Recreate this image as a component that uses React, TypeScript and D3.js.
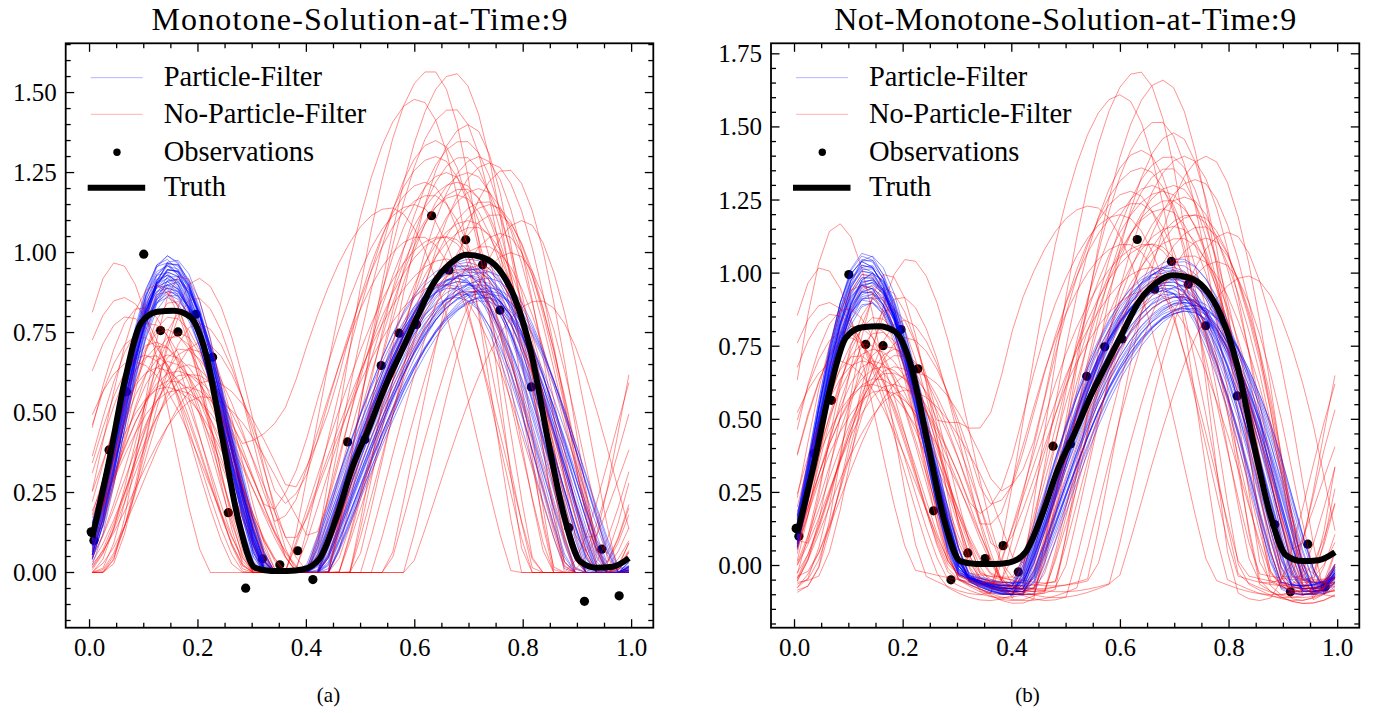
import React from "react";
import * as d3 from "d3";

const W = 1374;
const H = 713;
const FONT = "Liberation Serif, DejaVu Serif, Times New Roman, serif";

// truth (same in both panels)
const truthX = d3.range(34).map((i) => 0.005 + i * 0.03);
const truthY = [
  0.11, 0.34, 0.6, 0.78, 0.815, 0.818, 0.8, 0.68, 0.42, 0.16, 0.015, 0.005,
  0.005, 0.01, 0.045, 0.17, 0.33, 0.45, 0.58, 0.69, 0.8, 0.905, 0.965, 0.993,
  0.985, 0.948, 0.855, 0.685, 0.42, 0.18, 0.035, 0.015, 0.018, 0.045,
];

// observations (same in both panels)
const obsX = [
  0.003, 0.008, 0.036, 0.068, 0.1, 0.131, 0.163, 0.196, 0.227, 0.256, 0.288,
  0.319, 0.351, 0.384, 0.412, 0.476, 0.508, 0.538, 0.571, 0.603, 0.631, 0.663,
  0.694, 0.725, 0.757, 0.815, 0.884, 0.913, 0.945, 0.977,
];
const obsY = [
  0.127, 0.1, 0.383, 0.565, 0.995, 0.756, 0.752, 0.807, 0.673, 0.187, -0.049,
  0.043, 0.024, 0.068, -0.022, 0.408, 0.416, 0.647, 0.748, 0.775, 1.115, 0.945,
  1.04, 0.962, 0.82, 0.58, 0.14, -0.09, 0.073, -0.073,
];

// ensemble members:
// [peak1 centre, peak1 height, peak1 half width, peak2 centre, peak2 height, peak2 half width, dip depth]
const leftBlue = [
  [0.142, 0.93, 0.17, 0.7, 0.9, 0.285], [0.148, 0.97, 0.166, 0.69, 0.95, 0.28],
  [0.138, 0.89, 0.175, 0.72, 0.88, 0.292], [0.152, 0.95, 0.168, 0.68, 0.92, 0.276],
  [0.145, 0.99, 0.162, 0.706, 0.99, 0.286], [0.14, 0.91, 0.172, 0.732, 0.86, 0.298],
  [0.15, 0.88, 0.178, 0.694, 0.93, 0.281], [0.136, 0.94, 0.166, 0.716, 0.89, 0.29],
  [0.156, 0.92, 0.17, 0.672, 0.96, 0.272], [0.143, 0.96, 0.164, 0.742, 0.87, 0.3],
  [0.147, 0.9, 0.174, 0.686, 0.91, 0.279], [0.139, 0.98, 0.16, 0.71, 0.94, 0.288],
  [0.153, 0.87, 0.176, 0.726, 0.85, 0.294], [0.144, 0.93, 0.169, 0.698, 0.97, 0.283],
  [0.149, 0.95, 0.167, 0.664, 0.9, 0.27], [0.137, 0.9, 0.173, 0.736, 0.92, 0.296],
  [0.151, 0.97, 0.163, 0.702, 0.88, 0.284], [0.141, 0.86, 0.179, 0.718, 0.95, 0.291],
  [0.146, 0.94, 0.168, 0.678, 0.86, 0.277], [0.154, 0.92, 0.171, 0.708, 1.0, 0.287],
  [0.14, 0.96, 0.165, 0.724, 0.9, 0.293], [0.148, 0.89, 0.175, 0.69, 0.93, 0.28],
  [0.143, 0.99, 0.161, 0.714, 0.87, 0.289], [0.157, 0.91, 0.172, 0.668, 0.94, 0.271],
  [0.138, 0.93, 0.17, 0.74, 0.89, 0.299], [0.15, 0.95, 0.166, 0.696, 0.96, 0.282],
  [0.145, 0.88, 0.177, 0.728, 0.86, 0.295], [0.152, 0.97, 0.164, 0.684, 0.91, 0.278],
  [0.142, 0.9, 0.173, 0.704, 0.98, 0.285], [0.147, 0.94, 0.168, 0.72, 0.88, 0.292],
  [0.139, 0.92, 0.171, 0.676, 0.92, 0.275], [0.155, 0.98, 0.162, 0.712, 0.9, 0.288],
  [0.144, 0.87, 0.178, 0.734, 0.94, 0.297], [0.149, 0.96, 0.165, 0.692, 0.87, 0.281],
  [0.141, 0.91, 0.172, 0.708, 0.95, 0.286], [0.153, 0.93, 0.169, 0.67, 0.89, 0.273],
  [0.137, 0.97, 0.163, 0.722, 0.91, 0.294], [0.146, 0.89, 0.176, 0.7, 0.93, 0.284],
  [0.151, 0.95, 0.167, 0.738, 0.88, 0.298], [0.143, 0.92, 0.17, 0.688, 0.96, 0.279],
];

const leftRed = [
  [0.15, 0.8, 0.18, 0.69, 1.2, 0.27], [0.12, 0.72, 0.2, 0.65, 1.05, 0.29],
  [0.18, 0.65, 0.19, 0.72, 1.3, 0.24], [0.06, 0.86, 0.2, 0.63, 1.57, 0.22],
  [0.2, 0.92, 0.17, 0.674, 1.56, 0.23], [0.14, 0.58, 0.21, 0.7, 0.95, 0.29],
  [0.165, 0.75, 0.16, 0.605, 1.48, 0.24], [0.1, 0.68, 0.18, 0.74, 1.15, 0.26],
  [0.21, 0.55, 0.23, 0.66, 1.25, 0.25], [0.13, 0.9, 0.15, 0.77, 1.26, 0.22],
  [0.17, 0.7, 0.19, 0.555, 1.14, 0.28], [0.05, 0.97, 0.16, 0.71, 1.08, 0.28],
  [0.19, 0.62, 0.2, 0.64, 1.35, 0.23], [0.155, 0.85, 0.17, 0.83, 0.85, 0.24],
  [0.11, 0.78, 0.19, 0.68, 1.18, 0.27], [0.22, 0.6, 0.22, 0.62, 1.22, 0.25],
  [0.145, 0.66, 0.18, 0.73, 1.02, 0.28], [0.175, 0.82, 0.16, 0.7, 1.4, 0.22],
  [0.09, 0.74, 0.19, 0.66, 0.98, 0.3], [0.16, 0.57, 0.22, 0.75, 1.12, 0.25],
  [0.135, 0.88, 0.15, 0.69, 1.3, 0.24], [0.185, 0.7, 0.19, 0.61, 1.05, 0.27],
  [0.125, 0.64, 0.2, 0.72, 1.2, 0.26], [0.2, 0.78, 0.18, 0.65, 0.9, 0.29],
  [0.07, 0.8, 0.2, 0.7, 1.1, 0.27], [0.15, 0.6, 0.2, 0.78, 1.0, 0.23],
  [0.17, 0.93, 0.14, 0.67, 1.45, 0.23], [0.115, 0.68, 0.17, 0.74, 1.28, 0.25],
  [0.205, 0.72, 0.19, 0.63, 1.18, 0.28], [0.14, 0.76, 0.19, 0.71, 0.88, 0.29],
  [0.16, 0.63, 0.21, 0.69, 1.35, 0.25], [0.095, 0.83, 0.18, 0.76, 1.06, 0.24],
  [0.18, 0.58, 0.2, 0.6, 1.15, 0.27], [0.13, 0.71, 0.16, 0.68, 1.22, 0.28],
  [0.195, 0.86, 0.17, 0.72, 0.96, 0.26], [0.08, 0.66, 0.21, 0.64, 1.3, 0.26],
  [0.155, 0.74, 0.18, 0.8, 1.1, 0.22], [0.175, 0.62, 0.2, 0.66, 1.05, 0.28],
  [0.12, 0.9, 0.17, 0.7, 1.25, 0.26], [0.145, 0.68, 0.2, 0.73, 1.16, 0.27],
];

const rightBlue = [
  [0.134, 0.98, 0.166, 0.7, 0.95, 0.285, 0.09], [0.13, 1.03, 0.162, 0.69, 0.99, 0.28, 0.08],
  [0.138, 0.94, 0.17, 0.715, 0.9, 0.292, 0.1], [0.128, 1.06, 0.16, 0.682, 1.02, 0.276, 0.07],
  [0.136, 0.92, 0.172, 0.706, 0.93, 0.288, 0.09], [0.132, 1.0, 0.164, 0.726, 0.88, 0.296, 0.08],
  [0.14, 0.96, 0.168, 0.694, 0.97, 0.282, 0.1], [0.126, 1.04, 0.163, 0.71, 0.92, 0.29, 0.06],
  [0.135, 0.9, 0.174, 0.674, 1.0, 0.272, 0.09], [0.131, 1.01, 0.165, 0.734, 0.89, 0.298, 0.08],
  [0.137, 0.97, 0.169, 0.688, 0.96, 0.279, 0.1], [0.129, 1.07, 0.16, 0.712, 1.04, 0.287, 0.07],
  [0.141, 0.93, 0.171, 0.722, 0.87, 0.294, 0.09], [0.133, 0.99, 0.166, 0.698, 0.98, 0.283, 0.08],
  [0.127, 1.02, 0.162, 0.678, 0.94, 0.274, 0.1], [0.139, 0.95, 0.17, 0.73, 0.91, 0.296, 0.07],
  [0.134, 1.05, 0.163, 0.702, 1.01, 0.284, 0.09], [0.13, 0.91, 0.173, 0.716, 0.88, 0.291, 0.08],
  [0.136, 0.98, 0.167, 0.684, 0.95, 0.277, 0.1], [0.142, 1.0, 0.168, 0.708, 1.05, 0.287, 0.06],
  [0.128, 0.96, 0.165, 0.72, 0.9, 0.293, 0.09], [0.135, 1.03, 0.164, 0.692, 0.97, 0.28, 0.08],
  [0.131, 0.94, 0.171, 0.712, 0.92, 0.289, 0.1], [0.138, 1.06, 0.161, 0.676, 0.99, 0.273, 0.07],
  [0.133, 0.92, 0.169, 0.736, 0.89, 0.299, 0.09], [0.129, 1.01, 0.166, 0.696, 1.02, 0.282, 0.08],
  [0.14, 0.97, 0.172, 0.724, 0.87, 0.295, 0.1], [0.126, 1.04, 0.162, 0.686, 0.96, 0.278, 0.07],
  [0.137, 0.95, 0.168, 0.704, 1.03, 0.285, 0.09], [0.132, 0.99, 0.167, 0.718, 0.91, 0.292, 0.08],
  [0.136, 0.93, 0.17, 0.68, 0.94, 0.275, 0.1], [0.13, 1.05, 0.163, 0.71, 0.98, 0.288, 0.06],
  [0.139, 0.9, 0.173, 0.728, 0.9, 0.297, 0.09], [0.134, 1.02, 0.165, 0.694, 0.93, 0.281, 0.08],
  [0.127, 0.96, 0.169, 0.706, 1.0, 0.286, 0.1], [0.141, 1.0, 0.164, 0.672, 0.95, 0.273, 0.07],
  [0.133, 0.94, 0.171, 0.722, 0.96, 0.294, 0.09], [0.129, 1.03, 0.166, 0.7, 0.92, 0.284, 0.08],
  [0.138, 0.98, 0.167, 0.738, 0.88, 0.298, 0.1], [0.135, 0.97, 0.168, 0.688, 1.01, 0.279, 0.07],
];

const rightRed = [
  [0.15, 0.85, 0.18, 0.69, 1.25, 0.27, 0.08], [0.08, 1.17, 0.15, 0.65, 1.1, 0.29, 0.1],
  [0.21, 1.05, 0.17, 0.72, 1.4, 0.24, 0.06], [0.06, 0.9, 0.2, 0.633, 1.69, 0.22, 0.12],
  [0.19, 0.72, 0.2, 0.679, 1.66, 0.23, 0.09], [0.14, 0.62, 0.21, 0.7, 1.0, 0.29, 0.05],
  [0.165, 0.95, 0.16, 0.6, 1.61, 0.24, 0.11], [0.1, 0.78, 0.18, 0.74, 1.2, 0.26, 0.07],
  [0.205, 0.6, 0.23, 0.66, 1.3, 0.25, 0.13], [0.13, 1.0, 0.15, 0.76, 1.4, 0.22, 0.08],
  [0.17, 0.75, 0.19, 0.545, 1.23, 0.28, 0.1], [0.05, 1.02, 0.16, 0.71, 1.12, 0.28, 0.06],
  [0.185, 0.68, 0.2, 0.64, 1.42, 0.23, 0.12], [0.155, 0.92, 0.17, 0.835, 0.99, 0.24, 0.09],
  [0.11, 0.82, 0.19, 0.68, 1.22, 0.27, 0.04], [0.22, 0.66, 0.22, 0.62, 1.28, 0.25, 0.11],
  [0.145, 0.7, 0.18, 0.73, 1.06, 0.28, 0.08], [0.175, 0.88, 0.16, 0.7, 1.48, 0.22, 0.1],
  [0.09, 0.8, 0.19, 0.66, 1.02, 0.3, 0.07], [0.16, 0.6, 0.22, 0.75, 1.16, 0.25, 0.12],
  [0.135, 0.96, 0.15, 0.69, 1.36, 0.24, 0.09], [0.185, 0.74, 0.19, 0.61, 1.1, 0.27, 0.06],
  [0.125, 0.7, 0.2, 0.72, 1.26, 0.26, 0.1], [0.2, 0.84, 0.18, 0.65, 0.94, 0.29, 0.08],
  [0.07, 0.86, 0.2, 0.7, 1.16, 0.27, 0.11], [0.15, 0.64, 0.2, 0.78, 1.04, 0.23, 0.07],
  [0.17, 1.0, 0.14, 0.67, 1.52, 0.23, 0.13], [0.115, 0.72, 0.17, 0.74, 1.32, 0.25, 0.09],
  [0.205, 0.78, 0.19, 0.63, 1.24, 0.28, 0.05], [0.14, 0.82, 0.19, 0.71, 0.92, 0.29, 0.1],
  [0.16, 0.68, 0.21, 0.69, 1.4, 0.25, 0.08], [0.095, 0.88, 0.18, 0.76, 1.12, 0.24, 0.12],
  [0.18, 0.62, 0.2, 0.6, 1.2, 0.27, 0.07], [0.13, 0.76, 0.16, 0.68, 1.28, 0.28, 0.1],
  [0.195, 0.92, 0.17, 0.72, 1.0, 0.26, 0.09], [0.08, 0.7, 0.21, 0.64, 1.36, 0.26, 0.06],
  [0.155, 0.8, 0.18, 0.8, 1.14, 0.22, 0.11], [0.175, 0.66, 0.2, 0.66, 1.1, 0.28, 0.08],
  [0.12, 0.96, 0.17, 0.7, 1.3, 0.26, 0.12], [0.145, 0.74, 0.2, 0.73, 1.2, 0.27, 0.1],
];

const legendLabels = ["Particle-Filter", "No-Particle-Filter", "Observations", "Truth"];

// sample grid of the simulation
const xGrid = d3.range(51).map((i) => 0.005 + i * 0.0198);

function bump(x: number, c: number, h: number, wl: number, wr: number, pl: number, pr: number) {
  const t = x < c ? (x - c) / wl : (x - c) / wr;
  if (Math.abs(t) >= 1) return 0;
  return h * Math.pow(Math.cos((Math.PI * t) / 2), x < c ? pl : pr);
}
function dip(x: number, a: number, b: number) {
  if (x <= a || x >= b) return 0;
  const s = Math.sin((Math.PI * (x - a)) / (b - a));
  return s * s;
}
function member(m: number[], signed: boolean): [number, number][] {
  const [c1, h1, w1, c2, h2, w2, d = 0] = m;
  const wr1 = 1.08 * w1;
  const wr2 = 0.8 * w2;
  return xGrid.map((x) => {
    let u = 0;
    for (const k of [-1, 0, 1]) {
      const xx = k === -1 ? x - 1.015 : x + k;
      u += bump(xx, c1, h1, w1, wr1, 1.75, 1.5) + bump(xx, c2, h2, w2, wr2, 1.1, 1.2);
      if (signed) {
        u -= d * (dip(xx, c1 + 0.55 * wr1, c2 - 0.45 * w2) + dip(xx, c2 + 0.55 * wr2, c1 + 1 - 0.4 * w1));
      }
    }
    return [x, u];
  });
}

type PanelProps = {
  box: { l: number; r: number; t: number; b: number };
  xDom: [number, number];
  yDom: [number, number];
  yMax: number;
  title: string;
  titleW: number;
  caption: string;
  capX: number;
  blue: number[][];
  red: number[][];
  signed: boolean;
  id: string;
};

function Panel({ box, xDom, yDom, yMax, title, titleW, caption, capX, blue, red, signed, id }: PanelProps) {
  const x = d3.scaleLinear().domain(xDom).range([box.l, box.r]);
  const y = d3.scaleLinear().domain(yDom).range([box.b, box.t]);
  const line = d3.line<[number, number]>().x((d) => x(d[0])).y((d) => y(d[1]));
  const smooth = d3.line<[number, number]>().x((d) => x(d[0])).y((d) => y(d[1])).curve(d3.curveMonotoneX);

  const xMajor = d3.range(0, 1.0001, 0.2);
  const xMinor = d3.range(0, 21).map((i) => i * 0.05).filter((v) => Math.round(v * 100) % 20 !== 0);
  const yMajor = d3.range(0, yMax + 0.001, 0.25);
  const yMinor = d3
    .range(-4, Math.round(yDom[1] / 0.05) + 1)
    .map((i) => i * 0.05)
    .filter((v) => v >= yDom[0] && v <= yDom[1] && Math.round(v * 100) % 25 !== 0);

  const blueLines = blue.map((m) => member(m, signed));
  const redLines = red.map((m) => member(m, signed));
  const truth: [number, number][] = truthX.map((v, i) => [v, truthY[i]]);

  const MJ = 8.5;
  const MN = 5;
  const rows = [77.7, 114.3, 152.2, 187.7];
  const ff = { fontFamily: FONT };
  const cx = (box.l + box.r) / 2;

  return (
    <g>
      <defs>
        <clipPath id={id}>
          <rect x={box.l} y={box.t} width={box.r - box.l} height={box.b - box.t} />
        </clipPath>
      </defs>
      <text
        x={cx - titleW / 2}
        y={29.5}
        fontSize={32}
        textLength={titleW}
        lengthAdjust="spacing"
        style={ff}
      >
        {title}
      </text>
      <g clipPath={`url(#${id})`}>
        {obsX.map((v, i) => (
          <circle key={i} cx={x(v)} cy={y(obsY[i])} r={4.6} fill="#000" />
        ))}
        {blueLines.map((b, i) => (
          <g key={i}>
            <path d={line(b) || ""} fill="none" stroke="#0000ff" strokeOpacity={0.45} strokeWidth={0.9} />
            <path d={line(redLines[i]) || ""} fill="none" stroke="#ff0000" strokeOpacity={0.48} strokeWidth={0.9} />
          </g>
        ))}
        <path d={smooth(truth) || ""} fill="none" stroke="#000" strokeWidth={6} strokeLinejoin="round" />
      </g>

      {/* ticks on all four sides, pointing in */}
      <g stroke="#000" strokeWidth={1.3}>
        {xMajor.map((v) => (
          <g key={"xm" + v}>
            <line x1={x(v)} x2={x(v)} y1={box.b} y2={box.b - MJ} />
            <line x1={x(v)} x2={x(v)} y1={box.t} y2={box.t + MJ} />
          </g>
        ))}
        {xMinor.map((v) => (
          <g key={"xn" + v}>
            <line x1={x(v)} x2={x(v)} y1={box.b} y2={box.b - MN} />
            <line x1={x(v)} x2={x(v)} y1={box.t} y2={box.t + MN} />
          </g>
        ))}
        {yMajor.map((v) => (
          <g key={"ym" + v}>
            <line x1={box.l} x2={box.l + MJ} y1={y(v)} y2={y(v)} />
            <line x1={box.r} x2={box.r - MJ} y1={y(v)} y2={y(v)} />
          </g>
        ))}
        {yMinor.map((v) => (
          <g key={"yn" + v}>
            <line x1={box.l} x2={box.l + MN} y1={y(v)} y2={y(v)} />
            <line x1={box.r} x2={box.r - MN} y1={y(v)} y2={y(v)} />
          </g>
        ))}
      </g>
      <rect x={box.l} y={box.t} width={box.r - box.l} height={box.b - box.t} fill="none" stroke="#000" strokeWidth={1.8} />

      <g fontSize={25} style={ff}>
        {xMajor.map((v) => (
          <text key={"xl" + v} x={x(v)} y={655.5} textAnchor="middle">
            {d3.format(".1f")(v)}
          </text>
        ))}
        {yMajor.map((v) => (
          <text key={"yl" + v} x={box.l - 9} y={y(v) + 8.5} textAnchor="end">
            {d3.format(".2f")(v)}
          </text>
        ))}
      </g>

      {/* legend */}
      <g>
        <line x1={box.l + 25} x2={box.l + 77} y1={rows[0]} y2={rows[0]} stroke="#0000ff" strokeOpacity={0.3} strokeWidth={1} />
        <line x1={box.l + 25} x2={box.l + 77} y1={rows[1]} y2={rows[1]} stroke="#ff0000" strokeOpacity={0.3} strokeWidth={1} />
        <circle cx={box.l + 51.3} cy={rows[2]} r={3.7} fill="#000" />
        <line x1={box.l + 22} x2={box.l + 79.5} y1={rows[3]} y2={rows[3]} stroke="#000" strokeWidth={6} />
        {legendLabels.map((s, i) => (
          <text key={s} x={box.l + 98} y={rows[i] + 8.5} fontSize={28.5} style={ff}>
            {s}
          </text>
        ))}
      </g>

      <text x={capX} y={702} textAnchor="middle" fontSize={21} style={ff}>
        {caption}
      </text>
    </g>
  );
}

export default function App() {
  return (
    <svg width={W} height={H} style={{ display: "block", position: "absolute", left: 0, top: 0, background: "#fff" }}>
      <rect width={W} height={H} fill="#fff" />
      <Panel
        id="clipA"
        box={{ l: 65.7, r: 653.3, t: 43.3, b: 627.7 }}
        xDom={[-0.044, 1.04]}
        yDom={[-0.1725, 1.654]}
        yMax={1.5}
        title="Monotone-Solution-at-Time:9"
        titleW={416}
        caption="(a)"
        capX={328.5}
        blue={leftBlue}
        red={leftRed}
        signed={false}
      />
      <Panel
        id="clipB"
        box={{ l: 771, r: 1359.3, t: 43.3, b: 627.7 }}
        xDom={[-0.0433, 1.0398]}
        yDom={[-0.2127, 1.786]}
        yMax={1.75}
        title="Not-Monotone-Solution-at-Time:9"
        titleW={462}
        caption="(b)"
        capX={1027.5}
        blue={rightBlue}
        red={rightRed}
        signed={true}
      />
    </svg>
  );
}
